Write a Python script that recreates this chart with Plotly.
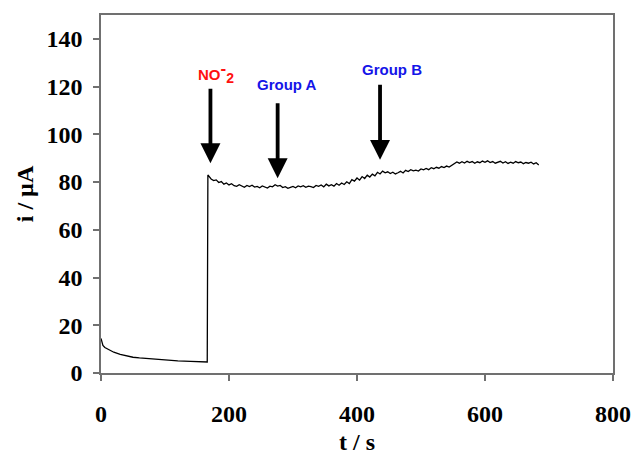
import plotly.graph_objects as go

# Decay segment before nitrite addition (t in s, i in µA)
t_decay = [0, 1, 3, 6, 10, 15, 20, 30, 40, 50, 60, 80, 100, 120, 140, 160, 166, 167]
i_decay = [14.5, 13.0, 11.6, 10.7, 10.1, 9.4, 8.7, 7.8, 7.1, 6.6, 6.3, 5.8, 5.4, 5.1, 4.9, 4.7, 4.6, 83.0]

# Steady-state segment after nitrite addition (sampled every 4 s)
t_steady = list(range(168, 688, 4))
i_steady = [
    82.6, 81.3, 80.6, 80.9, 79.8, 80.2, 79.1, 79.6, 78.8,
    79.3, 78.5, 78.2, 78.9, 78.4, 77.8, 78.6, 78.1, 78.7, 77.9,
    78.2, 77.6, 78.4, 77.9, 77.5, 78.3, 78.0, 78.9, 78.3, 78.6,
    77.7, 78.1, 77.4, 77.8, 78.2, 77.6, 78.4, 78.0, 78.5, 77.8,
    78.3, 78.1, 77.7, 78.6, 78.2, 78.8, 78.0, 79.1, 78.4, 78.9,
    78.3, 79.4, 78.7, 79.6, 79.0, 80.1, 79.4, 81.0, 80.4, 81.7,
    80.8, 82.3, 81.5, 82.9, 82.1, 83.3, 82.6, 84.1, 83.4, 84.6,
    83.9, 84.3, 83.6, 84.1, 83.4, 83.9, 84.5, 83.8, 84.9, 84.4,
    85.2, 84.7, 85.0, 84.6, 85.5, 85.1, 85.7, 85.2, 86.0, 85.6,
    86.2, 85.8, 86.5, 86.1, 86.7, 86.3, 87.1, 87.6, 88.4, 87.9,
    88.5, 88.0, 88.7, 88.2, 88.6, 87.9, 88.5, 88.1, 88.8, 88.3,
    88.9, 88.2, 88.6, 87.9, 88.4, 88.7, 88.0, 88.5, 87.8, 88.3,
    87.9, 88.6, 88.1, 88.4, 87.7, 88.2, 87.9, 88.3, 87.6, 88.1, 87.2,
]

t_all = t_decay + t_steady
i_all = i_decay + i_steady

# Injection markers: label, colour, time, arrow tail, arrow tip, label position
inj_labels = [
    "NO<sup><span style='font-size:17px'>-</span></sup>"
    "<sub><span style='font-size:14px'>2</span></sub>",
    "Group A", "Group B"]
inj_colors = ["#ff1010", "#1414e8", "#1414e8"]
inj_t = [171, 276, 436]
inj_tail = [119.7, 113.7, 121.4]
inj_tip = [87.9, 81.6, 89.3]
inj_label_y = [126.0, 121.0, 127.0]
inj_label_t = [180, 291, 455]

x_ticks = [0, 200, 400, 600, 800]
y_ticks = [0, 20, 40, 60, 80, 100, 120, 140]

fig = go.Figure()
fig.add_trace(go.Scatter(x=t_all, y=i_all, mode="lines",
                         line=dict(color="black", width=1.3), showlegend=False,
                         hoverinfo="skip"))

for lab, col, t, tail, tip, ly, lt in zip(inj_labels, inj_colors, inj_t, inj_tail,
                                           inj_tip, inj_label_y, inj_label_t):
    fig.add_annotation(x=t, y=tip, ax=t, ay=tail, xref="x", yref="y",
                       axref="x", ayref="y", showarrow=True, arrowhead=2,
                       arrowsize=1.05, arrowwidth=3.8, arrowcolor="black", text="")
    fig.add_annotation(x=lt, y=ly, xref="x", yref="y", showarrow=False,
                       text="<b>" + lab + "</b>",
                       font=dict(family="Liberation Sans, Arial", size=15, color=col))

axis_common = dict(showline=True, linecolor="#707070", linewidth=1.5, mirror=True,
                   ticks="outside", ticklen=6, tickcolor="#707070", tickwidth=1.5,
                   showgrid=False, zeroline=False, automargin=False,
                   tickfont=dict(family="Liberation Serif", size=24, color="black",
                                 weight="bold"))

fig.update_xaxes(range=[0, 800], tickvals=x_ticks, ticklabelstandoff=12,
                 title=dict(text="t / s", standoff=8,
                            font=dict(family="Liberation Serif", size=24,
                                      color="black", weight="bold")),
                 **axis_common)
fig.update_yaxes(range=[0, 150], tickvals=y_ticks, ticklabelstandoff=6,
                 title=dict(text="i / µA", standoff=6,
                            font=dict(family="Liberation Serif", size=24,
                                      color="black", weight="bold")),
                 **axis_common)

fig.update_layout(width=634, height=458, margin=dict(l=101, r=21, t=15, b=85),
                  plot_bgcolor="white", paper_bgcolor="white")

fig.write_html("out.html")
